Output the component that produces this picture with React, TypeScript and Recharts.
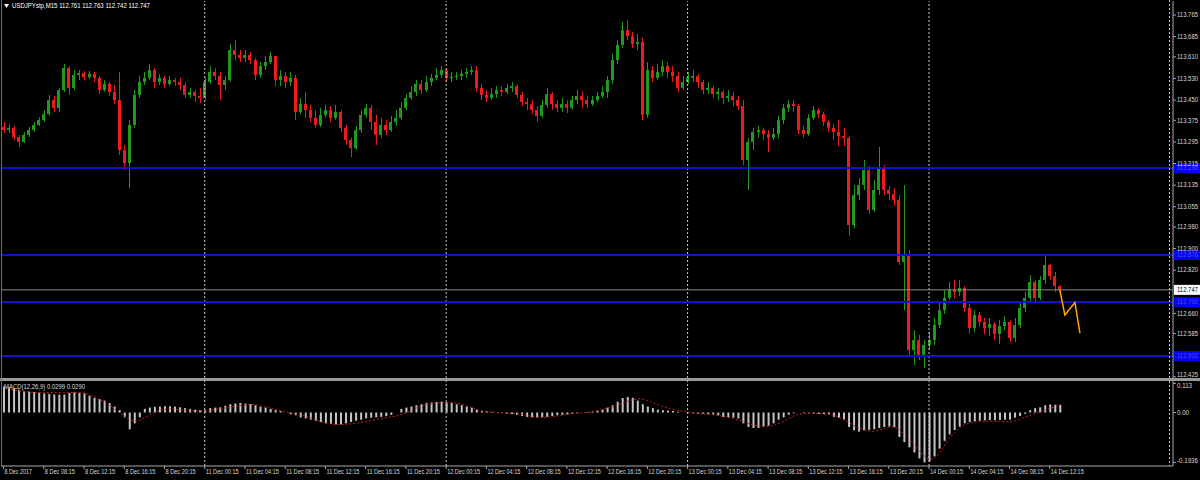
import { Bar, ComposedChart, Line, ReferenceLine, XAxis, YAxis } from 'recharts';

const FONT = "'Liberation Sans', Arial, sans-serif";
const GREEN = '#1f9a1f';
const RED = '#ee1c1c';
const TEXT = '#d8d8d8';
const BORDER = '#a8a8a8';

const timeLabels = [
  '8 Dec 2017', '8 Dec 08:15', '8 Dec 12:15', '8 Dec 16:15', '8 Dec 20:15',
  '11 Dec 00:15', '11 Dec 04:15', '11 Dec 08:15', '11 Dec 12:15', '11 Dec 16:15', '11 Dec 20:15',
  '12 Dec 00:15', '12 Dec 04:15', '12 Dec 08:15', '12 Dec 12:15', '12 Dec 16:15', '12 Dec 20:15',
  '13 Dec 00:15', '13 Dec 04:15', '13 Dec 08:15', '13 Dec 12:15', '13 Dec 16:15', '13 Dec 20:15',
  '14 Dec 00:15', '14 Dec 04:15', '14 Dec 08:15', '14 Dec 12:15',
];

// 30-minute candles, USDJPY
const openP = [
  113.350, 113.339, 113.347, 113.313, 113.295, 113.321, 113.339, 113.358, 113.376, 113.398,
  113.450, 113.421, 113.487, 113.569, 113.495, 113.543, 113.550, 113.535, 113.547, 113.532,
  113.487, 113.510, 113.480, 113.450, 113.265, 113.217, 113.358, 113.469, 113.517, 113.532,
  113.561, 113.517, 113.532, 113.510, 113.524, 113.517, 113.506, 113.469, 113.480, 113.465,
  113.458, 113.517, 113.554, 113.539, 113.506, 113.524, 113.635, 113.617, 113.606, 113.617,
  113.598, 113.543, 113.576, 113.591, 113.613, 113.524, 113.539, 113.517, 113.532, 113.406,
  113.435, 113.413, 113.384, 113.358, 113.395, 113.413, 113.384, 113.406, 113.347, 113.302,
  113.272, 113.339, 113.395, 113.421, 113.369, 113.321, 113.358, 113.339, 113.369, 113.384,
  113.421, 113.458, 113.480, 113.510, 113.487, 113.517, 113.532, 113.543, 113.561, 113.532,
  113.535, 113.539, 113.547, 113.554, 113.561, 113.495, 113.469, 113.458, 113.472, 113.487,
  113.480, 113.495, 113.502, 113.469, 113.443, 113.435, 113.413, 113.391, 113.432, 113.472,
  113.435, 113.421, 113.435, 113.421, 113.450, 113.465, 113.450, 113.435, 113.450, 113.465,
  113.480, 113.524, 113.598, 113.654, 113.709, 113.687, 113.658, 113.665, 113.395, 113.561,
  113.532, 113.554, 113.576, 113.554, 113.539, 113.495, 113.517, 113.532, 113.539, 113.517,
  113.487, 113.495, 113.472, 113.480, 113.458, 113.465, 113.450, 113.428, 113.228, 113.295,
  113.332, 113.339, 113.324, 113.310, 113.324, 113.376, 113.421, 113.435, 113.428, 113.339,
  113.324, 113.384, 113.413, 113.398, 113.369, 113.347, 113.332, 113.317, 113.310, 112.987,
  113.098, 113.135, 113.191, 113.043, 113.117, 113.198, 113.117, 113.102, 113.080, 112.850,
  112.876, 112.524, 112.561, 112.506, 112.543, 112.561, 112.617, 112.672, 112.717, 112.747,
  112.739, 112.754, 112.680, 112.606, 112.654, 112.628, 112.606, 112.621, 112.584, 112.613,
  112.628, 112.569, 112.617, 112.680, 112.717, 112.776, 112.717, 112.784, 112.839, 112.798,
  112.761,
];
const highP = [
  113.369, 113.361, 113.354, 113.321, 113.332, 113.350, 113.369, 113.387, 113.413, 113.469,
  113.465, 113.495, 113.584, 113.576, 113.561, 113.561, 113.558, 113.558, 113.554, 113.539,
  113.524, 113.517, 113.506, 113.554, 113.284, 113.376, 113.487, 113.539, 113.554, 113.584,
  113.569, 113.547, 113.539, 113.539, 113.532, 113.532, 113.517, 113.495, 113.487, 113.495,
  113.532, 113.576, 113.569, 113.554, 113.539, 113.658, 113.672, 113.635, 113.635, 113.628,
  113.606, 113.591, 113.613, 113.628, 113.613, 113.561, 113.554, 113.554, 113.543, 113.458,
  113.480, 113.432, 113.413, 113.421, 113.432, 113.428, 113.432, 113.413, 113.358, 113.310,
  113.354, 113.413, 113.435, 113.432, 113.395, 113.384, 113.376, 113.391, 113.413, 113.443,
  113.472, 113.502, 113.524, 113.524, 113.539, 113.547, 113.569, 113.576, 113.569, 113.554,
  113.554, 113.561, 113.569, 113.576, 113.576, 113.510, 113.487, 113.495, 113.502, 113.502,
  113.510, 113.517, 113.510, 113.480, 113.458, 113.450, 113.428, 113.450, 113.495, 113.480,
  113.450, 113.458, 113.450, 113.465, 113.487, 113.480, 113.465, 113.465, 113.480, 113.502,
  113.539, 113.621, 113.672, 113.739, 113.746, 113.702, 113.695, 113.680, 113.591, 113.576,
  113.584, 113.598, 113.591, 113.576, 113.554, 113.539, 113.554, 113.561, 113.547, 113.524,
  113.517, 113.502, 113.495, 113.487, 113.487, 113.480, 113.465, 113.450, 113.310, 113.347,
  113.354, 113.347, 113.339, 113.347, 113.391, 113.435, 113.450, 113.450, 113.435, 113.354,
  113.398, 113.428, 113.421, 113.406, 113.376, 113.361, 113.376, 113.347, 113.317, 113.135,
  113.161, 113.228, 113.206, 113.154, 113.276, 113.210, 113.132, 113.124, 113.098, 113.135,
  112.895, 112.598, 112.580, 112.561, 112.591, 112.643, 112.702, 112.747, 112.776, 112.784,
  112.784, 112.761, 112.695, 112.672, 112.665, 112.643, 112.643, 112.628, 112.635, 112.650,
  112.635, 112.643, 112.702, 112.739, 112.802, 112.784, 112.798, 112.872, 112.843, 112.813,
  112.763,
];
const lowP = [
  113.328, 113.328, 113.302, 113.276, 113.291, 113.313, 113.332, 113.354, 113.369, 113.391,
  113.406, 113.406, 113.480, 113.469, 113.487, 113.524, 113.524, 113.528, 113.517, 113.472,
  113.480, 113.465, 113.435, 113.247, 113.191, 113.124, 113.347, 113.458, 113.506, 113.524,
  113.495, 113.506, 113.495, 113.502, 113.502, 113.487, 113.458, 113.458, 113.443, 113.439,
  113.450, 113.510, 113.524, 113.450, 113.487, 113.517, 113.598, 113.591, 113.591, 113.584,
  113.524, 113.532, 113.561, 113.584, 113.502, 113.502, 113.495, 113.502, 113.376, 113.398,
  113.384, 113.369, 113.347, 113.350, 113.384, 113.369, 113.376, 113.332, 113.284, 113.239,
  113.265, 113.328, 113.384, 113.339, 113.284, 113.310, 113.321, 113.332, 113.354, 113.376,
  113.413, 113.450, 113.465, 113.472, 113.480, 113.502, 113.524, 113.532, 113.517, 113.517,
  113.524, 113.524, 113.532, 113.543, 113.480, 113.450, 113.443, 113.450, 113.458, 113.465,
  113.472, 113.480, 113.458, 113.428, 113.413, 113.398, 113.369, 113.384, 113.421, 113.413,
  113.406, 113.406, 113.402, 113.413, 113.435, 113.421, 113.421, 113.428, 113.443, 113.458,
  113.458, 113.510, 113.584, 113.643, 113.672, 113.643, 113.635, 113.376, 113.384, 113.517,
  113.524, 113.539, 113.532, 113.517, 113.480, 113.487, 113.510, 113.517, 113.495, 113.472,
  113.472, 113.458, 113.450, 113.435, 113.443, 113.428, 113.413, 113.210, 113.117, 113.265,
  113.310, 113.302, 113.258, 113.302, 113.310, 113.361, 113.406, 113.406, 113.324, 113.310,
  113.317, 113.376, 113.384, 113.354, 113.332, 113.302, 113.280, 113.280, 112.947, 112.976,
  113.080, 113.117, 113.028, 113.035, 113.098, 113.098, 113.080, 113.058, 112.839, 112.672,
  112.506, 112.469, 112.487, 112.458, 112.524, 112.543, 112.606, 112.658, 112.709, 112.717,
  112.724, 112.665, 112.584, 112.591, 112.613, 112.584, 112.576, 112.561, 112.547, 112.598,
  112.554, 112.554, 112.606, 112.665, 112.702, 112.702, 112.709, 112.769, 112.784, 112.739,
  112.742,
];
const closeP = [
  113.339, 113.347, 113.313, 113.295, 113.321, 113.339, 113.358, 113.376, 113.398, 113.450,
  113.421, 113.487, 113.569, 113.495, 113.543, 113.550, 113.535, 113.547, 113.532, 113.487,
  113.510, 113.480, 113.450, 113.265, 113.217, 113.358, 113.469, 113.517, 113.532, 113.561,
  113.517, 113.532, 113.510, 113.524, 113.517, 113.506, 113.469, 113.480, 113.465, 113.458,
  113.517, 113.554, 113.539, 113.506, 113.524, 113.635, 113.617, 113.606, 113.617, 113.598,
  113.543, 113.576, 113.591, 113.613, 113.524, 113.539, 113.517, 113.532, 113.406, 113.435,
  113.413, 113.384, 113.358, 113.395, 113.413, 113.384, 113.406, 113.347, 113.302, 113.272,
  113.339, 113.395, 113.421, 113.369, 113.321, 113.358, 113.339, 113.369, 113.384, 113.421,
  113.458, 113.480, 113.510, 113.487, 113.517, 113.532, 113.543, 113.561, 113.532, 113.535,
  113.539, 113.547, 113.554, 113.561, 113.495, 113.469, 113.458, 113.472, 113.487, 113.480,
  113.495, 113.502, 113.469, 113.443, 113.435, 113.413, 113.391, 113.432, 113.472, 113.435,
  113.421, 113.435, 113.421, 113.450, 113.465, 113.450, 113.435, 113.450, 113.465, 113.480,
  113.524, 113.598, 113.654, 113.709, 113.687, 113.658, 113.665, 113.395, 113.561, 113.532,
  113.554, 113.576, 113.554, 113.539, 113.495, 113.517, 113.532, 113.539, 113.517, 113.487,
  113.495, 113.472, 113.480, 113.458, 113.465, 113.450, 113.428, 113.228, 113.295, 113.332,
  113.339, 113.324, 113.310, 113.324, 113.376, 113.421, 113.435, 113.428, 113.339, 113.324,
  113.384, 113.413, 113.398, 113.369, 113.347, 113.332, 113.317, 113.310, 112.987, 113.098,
  113.135, 113.191, 113.043, 113.117, 113.198, 113.117, 113.102, 113.080, 112.850, 112.876,
  112.524, 112.561, 112.506, 112.543, 112.561, 112.617, 112.672, 112.717, 112.747, 112.739,
  112.754, 112.680, 112.606, 112.654, 112.628, 112.606, 112.621, 112.584, 112.613, 112.628,
  112.569, 112.617, 112.680, 112.717, 112.776, 112.717, 112.784, 112.839, 112.798, 112.761,
  112.747,
];

// MACD(12,26,9): main histogram and signal
const macdMain = [
  0.102, 0.097, 0.093, 0.088, 0.083, 0.081, 0.079, 0.077, 0.074, 0.072,
  0.070, 0.069, 0.070, 0.076, 0.078, 0.076, 0.074, 0.065, 0.057, 0.052,
  0.046, 0.037, 0.023, 0.009, -0.019, -0.065, -0.042, -0.019, 0.014, 0.019,
  0.022, 0.023, 0.024, 0.024, 0.023, 0.020, 0.017, 0.014, 0.011, 0.009,
  0.011, 0.017, 0.019, 0.020, 0.026, 0.032, 0.035, 0.037, 0.035, 0.033,
  0.028, 0.022, 0.019, 0.014, 0.009, 0.005, 0.0, -0.007, -0.011, -0.019,
  -0.023, -0.028, -0.032, -0.037, -0.042, -0.044, -0.046, -0.046, -0.042, -0.037,
  -0.032, -0.028, -0.023, -0.020, -0.019, -0.017, -0.014, -0.009, 0.0, 0.014,
  0.019, 0.023, 0.028, 0.032, 0.037, 0.039, 0.041, 0.042, 0.041, 0.037,
  0.032, 0.028, 0.023, 0.019, 0.011, 0.007, 0.004, 0.002, 0.0, -0.002,
  -0.004, -0.006, -0.009, -0.014, -0.017, -0.019, -0.020, -0.019, -0.017, -0.014,
  -0.011, -0.009, -0.007, -0.005, -0.003, 0.0, 0.002, 0.004, 0.007, 0.011,
  0.019, 0.028, 0.042, 0.056, 0.060, 0.057, 0.046, 0.032, 0.023, 0.017,
  0.011, 0.009, 0.007, 0.006, 0.003, 0.0, -0.002, -0.003, -0.004, -0.005,
  -0.006, -0.007, -0.011, -0.017, -0.019, -0.020, -0.023, -0.042, -0.056, -0.060,
  -0.060, -0.056, -0.051, -0.042, -0.028, -0.019, -0.009, -0.003, 0.0, -0.002,
  -0.003, -0.004, -0.005, -0.006, -0.007, -0.017, -0.020, -0.028, -0.056, -0.069,
  -0.074, -0.069, -0.067, -0.065, -0.060, -0.056, -0.054, -0.057, -0.095, -0.115,
  -0.135, -0.155, -0.178, -0.1936, -0.19, -0.17, -0.14, -0.11, -0.085, -0.068,
  -0.055, -0.042, -0.037, -0.035, -0.032, -0.031, -0.030, -0.030, -0.029, -0.028,
  -0.028, -0.020, -0.014, -0.005, 0.009, 0.017, 0.020, 0.028, 0.031, 0.030,
  0.0299,
];
const macdSignal = [
  0.100, 0.093, 0.087, 0.083, 0.081, 0.079, 0.078, 0.077, 0.077, 0.077,
  0.077, 0.077, 0.077, 0.077, 0.078, 0.077, 0.076, 0.070, 0.063, 0.051,
  0.042, 0.030, 0.014, 0.0, -0.014, -0.026, -0.033, -0.031, -0.020, -0.009,
  0.0, 0.007, 0.012, 0.014, 0.013, 0.011, 0.009, 0.008, 0.007, 0.007,
  0.007, 0.009, 0.011, 0.014, 0.017, 0.020, 0.024, 0.028, 0.030, 0.031,
  0.030, 0.026, 0.022, 0.017, 0.012, 0.007, 0.003, -0.002, -0.006, -0.009,
  -0.014, -0.020, -0.028, -0.035, -0.041, -0.044, -0.046, -0.046, -0.046, -0.044,
  -0.042, -0.039, -0.035, -0.031, -0.028, -0.024, -0.020, -0.017, -0.014, -0.009,
  -0.002, 0.007, 0.017, 0.024, 0.030, 0.033, 0.036, 0.038, 0.039, 0.039,
  0.037, 0.032, 0.026, 0.019, 0.012, 0.006, 0.004, 0.002, 0.0, -0.001,
  -0.002, -0.003, -0.005, -0.007, -0.011, -0.015, -0.018, -0.019, -0.019, -0.017,
  -0.014, -0.011, -0.007, -0.005, -0.003, -0.002, 0.0, 0.004, 0.007, 0.011,
  0.017, 0.022, 0.028, 0.035, 0.043, 0.049, 0.053, 0.052, 0.046, 0.039,
  0.031, 0.024, 0.019, 0.013, 0.009, 0.006, 0.002, -0.002, -0.005, -0.006,
  -0.007, -0.009, -0.011, -0.015, -0.019, -0.023, -0.028, -0.034, -0.042, -0.048,
  -0.053, -0.054, -0.054, -0.051, -0.044, -0.035, -0.024, -0.014, -0.007, -0.005,
  -0.003, -0.003, -0.004, -0.006, -0.007, -0.011, -0.017, -0.026, -0.037, -0.051,
  -0.060, -0.067, -0.072, -0.074, -0.069, -0.063, -0.057, -0.056, -0.065, -0.083,
  -0.102, -0.125, -0.148, -0.167, -0.182, -0.178, -0.160, -0.130, -0.100, -0.078,
  -0.060, -0.048, -0.042, -0.037, -0.035, -0.034, -0.034, -0.034, -0.035, -0.036,
  -0.037, -0.033, -0.026, -0.019, -0.011, -0.005, 0.003, 0.009, 0.017, 0.022,
  0.029,
];

// zigzag projection drawn past the last bar
const projIdx = [210, 211, 213, 214];
const projVal = [112.747, 112.654, 112.700, 112.587];

const levels = [113.198, 112.876, 112.702, 112.502];
const lastPrice = 112.747;
const priceTicks = [
  113.765, 113.685, 113.61, 113.53, 113.45, 113.375, 113.295, 113.215,
  113.135, 113.055, 112.98, 112.9, 112.82, 112.66, 112.585, 112.425,
];
const macdTicks = [0.113, 0, -0.1936];
const macdTickText = ['0.113', '0.00', '-0.1936'];
const daySeps = [40, 88, 136, 184];
const SLOTS = 233;

const rows = Array.from({ length: SLOTS }, (_, i) => {
  const has = i < closeP.length;
  const p = projIdx.indexOf(i);
  return {
    t: i,
    o: has ? openP[i] : null,
    h: has ? highP[i] : null,
    l: has ? lowP[i] : null,
    c: has ? closeP[i] : null,
    rng: has ? [lowP[i], highP[i]] : null,
    hist: has ? macdMain[i] : null,
    sig: has ? macdSignal[i] : null,
    proj: p >= 0 ? projVal[p] : null,
  };
});

// small text squeezed to the narrow MT4 glyph width
const T = ({ x, y, text, fill = TEXT, per = 3, size = 6.3, dy = 2.3 }: any) => (
  <text
    x={x}
    y={y}
    dy={dy}
    fill={fill}
    fontSize={size}
    fontFamily={FONT}
    textLength={text.length * per}
    lengthAdjust="spacingAndGlyphs"
  >
    {text}
  </text>
);

const Candle = (props: any) => {
  const { x, y, width, height, payload } = props;
  if (!payload || payload.h == null) return null;
  const { o, h, l, c } = payload;
  const top = Math.min(y, y + height);
  const bot = Math.max(y, y + height);
  const span = h - l || 1;
  const py = (v: number) => top + ((h - v) / span) * (bot - top);
  const col = c >= o ? GREEN : RED;
  const cx = Math.round(x + width / 2) + 0.5;
  const b1 = py(Math.max(o, c));
  const b2 = py(Math.min(o, c));
  return (
    <g>
      <line x1={cx} x2={cx} y1={top} y2={bot} stroke={col} strokeWidth={1} />
      <rect x={Math.round(x)} y={b1} width={width} height={Math.max(1, b2 - b1)} fill={col} />
    </g>
  );
};

const PriceTick = (p: any) => {
  const { x, y, payload, index } = p;
  // the lowest label sits on the panel edge, lift it so it stays whole
  const dy = index === priceTicks.length - 1 ? 0.2 : 2.3;
  return (
    <g>
      <line x1={x} x2={x + 3} y1={y} y2={y} stroke={BORDER} />
      <T x={x + 4} y={y} dy={dy} text={Number(payload.value).toFixed(3)} />
    </g>
  );
};

const MacdTick = (p: any) => {
  const { x, y, payload, index } = p;
  const dy = index === 0 ? 4.5 : index === 2 ? 0.5 : 2.3;
  return (
    <g>
      <line x1={x} x2={x + 3} y1={y} y2={y} stroke={BORDER} />
      <T x={x + 4} y={y} dy={dy} text={macdTickText[macdTicks.indexOf(payload.value)]} />
    </g>
  );
};

const TimeTick = (p: any) => {
  const { x, y, payload } = p;
  const label = timeLabels[payload.value / 8];
  if (!label) return null;
  return (
    <g>
      <line x1={x} x2={x} y1={y} y2={y + 3} stroke={BORDER} />
      <T x={x + 1} y={y + 6} text={label} per={2.75} />
    </g>
  );
};

const LevelTag = (p: any) => {
  const vb = p.viewBox || {};
  const x0 = vb.x + vb.width + 1;
  return (
    <g>
      <rect x={x0} y={vb.y - 5} width={26} height={10} fill="#0606e8" />
      <T x={x0 + 3} y={vb.y} text={p.text} fill="#4a4aff" />
    </g>
  );
};

const LastTag = (p: any) => {
  const vb = p.viewBox || {};
  const x0 = vb.x + vb.width + 1;
  return (
    <g>
      <rect x={x0} y={vb.y - 5} width={26} height={10} fill="#ffffff" />
      <T x={x0 + 3} y={vb.y} text={lastPrice.toFixed(3)} fill="#000000" />
    </g>
  );
};

export default function App() {
  return (
    <div
      style={{
        position: 'fixed',
        left: 0,
        top: 0,
        width: 1200,
        height: 480,
        background: '#000',
        overflow: 'hidden',
      }}
    >
      <div style={{ position: 'absolute', left: 0, top: 0 }}>
        <ComposedChart
          width={1200}
          height={378}
          data={rows}
          margin={{ top: 1, right: 0, bottom: 0, left: 1 }}
        >
          <XAxis dataKey="t" hide />
          <YAxis
            orientation="right"
            width={27}
            domain={[112.4206, 113.8169]}
            allowDataOverflow
            ticks={priceTicks}
            interval={0}
            tickSize={0}
            tickMargin={0}
            tickLine={false}
            axisLine={{ stroke: BORDER }}
            tick={<PriceTick />}
          />
          {daySeps.map((d) => (
            <ReferenceLine key={d} x={d} stroke="#c8c8c8" strokeDasharray="2 2" />
          ))}
          <ReferenceLine
            y={lastPrice}
            stroke="#8c8c8c"
            label={(lp: any) => <LastTag viewBox={lp.viewBox} />}
          />
          {levels.map((v) => (
            <ReferenceLine
              key={v}
              y={v}
              stroke="#1212c8"
              strokeWidth={2}
              label={(lp: any) => <LevelTag viewBox={lp.viewBox} text={v.toFixed(3)} />}
            />
          ))}
          <Bar dataKey="rng" barSize={3} shape={Candle} isAnimationActive={false} />
          <Line
            dataKey="proj"
            stroke="#ffa500"
            strokeWidth={1.5}
            dot={false}
            connectNulls
            isAnimationActive={false}
          />
        </ComposedChart>
      </div>

      <div style={{ position: 'absolute', left: 0, top: 378, width: 1200, height: 3, background: '#9a9a9a' }} />
      <div style={{ position: 'absolute', left: 1, top: 0, width: 1, height: 466, background: '#707070' }} />

      <div style={{ position: 'absolute', left: 0, top: 381 }}>
        <ComposedChart
          width={1200}
          height={99}
          data={rows}
          margin={{ top: 0, right: 0, bottom: 0, left: 1 }}
        >
          <XAxis
            dataKey="t"
            height={14}
            interval={7}
            tickSize={0}
            tickMargin={0}
            tickLine={false}
            axisLine={{ stroke: BORDER }}
            tick={<TimeTick />}
          />
          <YAxis
            orientation="right"
            width={27}
            domain={[-0.2074, 0.1221]}
            allowDataOverflow
            ticks={macdTicks}
            interval={0}
            tickSize={0}
            tickMargin={0}
            tickLine={false}
            axisLine={{ stroke: BORDER }}
            tick={<MacdTick />}
          />
          {daySeps.map((d) => (
            <ReferenceLine key={d} x={d} stroke="#c8c8c8" strokeDasharray="2 2" />
          ))}
          <Bar dataKey="hist" barSize={2} fill="#c4c4c4" isAnimationActive={false} />
          <Line
            dataKey="sig"
            stroke="#c81e1e"
            strokeDasharray="2 2"
            dot={false}
            isAnimationActive={false}
          />
        </ComposedChart>
      </div>

      <svg
        width={1200}
        height={480}
        style={{ position: 'absolute', left: 0, top: 0, pointerEvents: 'none' }}
      >
        <line x1={1169.5} x2={1169.5} y1={0} y2={378} stroke="#c8c8c8" strokeDasharray="2 2" />
        <line x1={1169.5} x2={1169.5} y1={381} y2={466} stroke="#c8c8c8" strokeDasharray="2 2" />
        <path d="M4 4 L9 4 L6.5 8 Z" fill="#ffffff" />
        <T x={12} y={6} text="USDJPYstp,M15  112.761 112.763 112.742 112.747" fill="#ffffff" per={3.0} />
        <T x={4} y={387} text="MACD(12,26,9) 0.0299 0.0290" per={3.0} />
      </svg>
    </div>
  );
}
